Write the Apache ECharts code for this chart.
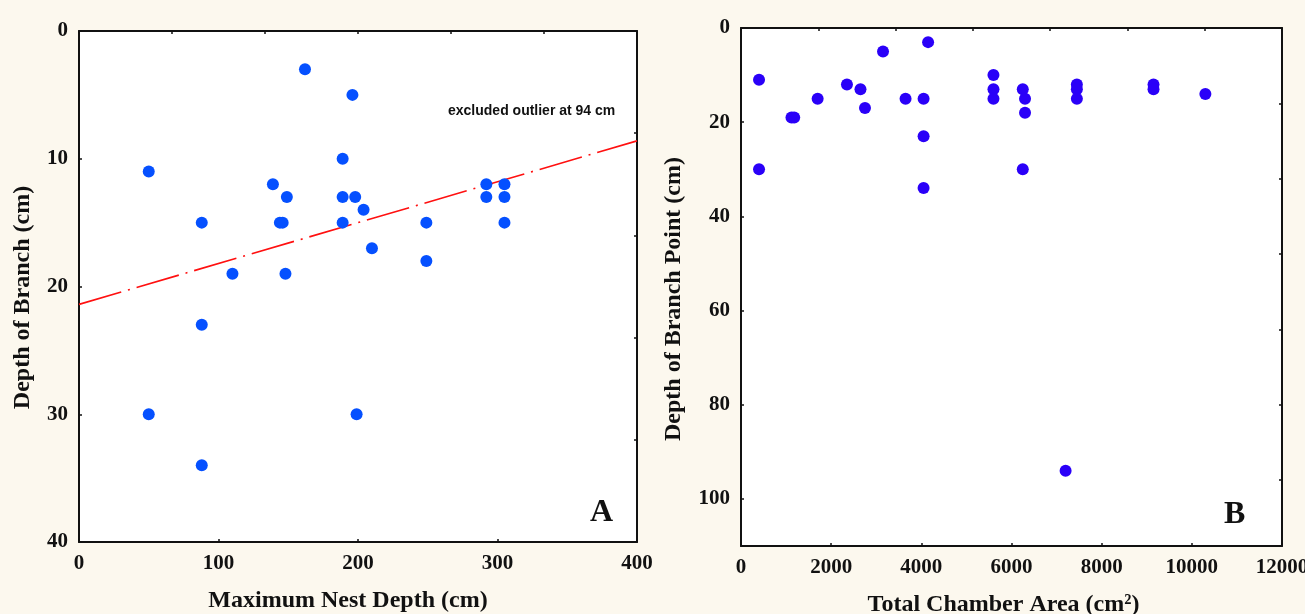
<!DOCTYPE html>
<html>
<head>
<meta charset="utf-8">
<script src="https://cdn.jsdelivr.net/npm/echarts@6/dist/echarts.min.js"></script>
<style>
html,body{margin:0;padding:0;background:#fcf8ee;}
#chart{width:1305px;height:614px;}
</style>
</head>
<body>
<div id="chart"></div>
<script>
// Panel A: Maximum nest depth (cm) vs depth of branch (cm)
const nestDepthA   = [50, 88, 110, 139, 149, 144, 146, 148, 162, 189, 189, 189, 196, 198, 204, 210, 249, 249, 292, 292, 305, 305, 305, 50, 88, 88, 199];
const branchDepthA = [11, 15, 19, 12, 13, 15, 15, 19, 3, 10, 13, 15, 5, 13, 14, 17, 15, 18, 12, 13, 12, 13, 15, 30, 23, 34, 30];
// Regression line endpoints
const regLineX = [0, 400];
const regLineY = [21.4, 8.6];

// Panel B: total chamber area (cm^2) vs depth of branch point (cm)
const chamberAreaB = [400, 400, 1120, 1180, 1700, 2350, 2650, 2750, 3150, 3650, 4050, 4150, 4050, 4050, 5600, 5600, 5600, 6250, 6300, 6300, 6250, 7450, 7450, 7450, 9150, 9150, 10300, 7200];
const branchDepthB = [11, 30, 19, 19, 15, 12, 13, 17, 5, 15, 15, 3, 23, 34, 10, 13, 15, 13, 15, 18, 30, 12, 13, 15, 12, 13, 14, 94];

const xTicksA = [0, 100, 200, 300, 400];
const yTicksA = [0, 10, 20, 30, 40];
const xTicksB = [0, 2000, 4000, 6000, 8000, 10000, 12000];
const yTicksB = [0, 20, 40, 60, 80, 100];

const SERIF = '"Liberation Serif", "Times New Roman", serif';
const ink = '#111';

function pairs(xs, ys){ return xs.map((x,i)=>[x, ys[i]]); }

const labelStyle = {fontFamily: SERIF, fontWeight: 'bold', fontSize: 21, color: ink, formatter: v => String(v)};
const nameStyle = {fontFamily: SERIF, fontWeight: 'bold', fontSize: 24, color: ink};

function mainAxis(opts){
  return Object.assign({
    type: 'value',
    axisLine: {show: true, onZero: false, lineStyle: {color: ink, width: 2}},
    axisTick: {show: true, inside: true, length: 3, lineStyle: {color: ink, width: 1.5}},
    splitLine: {show: false},
    axisLabel: Object.assign({margin: 11}, labelStyle),
    nameLocation: 'middle'
  }, opts);
}
function frameAxis(opts){
  return Object.assign({
    type: 'value',
    axisLine: {show: true, onZero: false, lineStyle: {color: ink, width: 2}},
    axisTick: {show: true, inside: true, length: 3, lineStyle: {color: ink, width: 1.5}},
    splitLine: {show: false},
    axisLabel: {show: false}
  }, opts);
}

const chart = echarts.init(document.getElementById('chart'));
chart.setOption({
  backgroundColor: '#fcf8ee',
  animation: false,
  grid: [
    {left: 79, top: 31, width: 558, height: 511, show: true, backgroundColor: '#ffffff', borderWidth: 0, containLabel: false, outerBoundsMode: 'none'},
    {left: 741, top: 28, width: 541, height: 518, show: true, backgroundColor: '#ffffff', borderWidth: 0, containLabel: false, outerBoundsMode: 'none'}
  ],
  xAxis: [
    mainAxis({gridIndex: 0, position: 'bottom', min: xTicksA[0], max: xTicksA[xTicksA.length-1], interval: xTicksA[1]-xTicksA[0],
      name: 'Maximum Nest Depth (cm)', nameGap: 47, nameTextStyle: Object.assign({padding: [0, 20, 0, 0]}, nameStyle)}),
    frameAxis({gridIndex: 0, position: 'top', min: 0, max: 400, interval: 400/6}),
    mainAxis({gridIndex: 1, position: 'bottom', min: xTicksB[0], max: xTicksB[xTicksB.length-1], interval: xTicksB[1]-xTicksB[0],
      name: 'Total Chamber Area (cm\u00B2)', nameGap: 47, nameTextStyle: Object.assign({padding: [0, 16, 0, 0]}, nameStyle)}),
    frameAxis({gridIndex: 1, position: 'top', min: 0, max: 12000, interval: 12000/7})
  ],
  yAxis: [
    mainAxis({gridIndex: 0, position: 'left', inverse: true, min: yTicksA[0], max: yTicksA[yTicksA.length-1], interval: yTicksA[1]-yTicksA[0],
      name: 'Depth of Branch (cm)', nameGap: 44, nameTextStyle: Object.assign({padding: [0, 22, 0, 0]}, nameStyle)}),
    frameAxis({gridIndex: 0, position: 'right', inverse: true, min: 0, max: 40, interval: 8}),
    mainAxis({gridIndex: 1, position: 'left', inverse: true, min: 0, max: 110, interval: yTicksB[1]-yTicksB[0],
      axisLabel: Object.assign({margin: 11, showMaxLabel: false}, labelStyle),
      name: 'Depth of Branch Point (cm)', nameGap: 55, nameTextStyle: Object.assign({padding: [0, 24, 0, 0]}, nameStyle)}),
    frameAxis({gridIndex: 1, position: 'right', inverse: true, min: 0, max: 110, interval: 16})
  ],
  series: [
    {
      type: 'line', xAxisIndex: 0, yAxisIndex: 0,
      data: pairs(regLineX, regLineY),
      showSymbol: false, symbol: 'none',
      lineStyle: {color: '#ff1010', width: 1.6, type: [44, 7, 2, 7]},
      z: 3
    },
    {
      type: 'scatter', xAxisIndex: 0, yAxisIndex: 0,
      data: pairs(nestDepthA, branchDepthA),
      symbol: 'circle', symbolSize: 12,
      itemStyle: {color: '#0550ff', opacity: 1},
      z: 4
    },
    {
      type: 'scatter', xAxisIndex: 2, yAxisIndex: 2,
      data: pairs(chamberAreaB, branchDepthB),
      symbol: 'circle', symbolSize: 12,
      itemStyle: {color: '#2a00f8', opacity: 1},
      z: 4
    }
  ],
  graphic: [
    {type: 'text', left: 448, top: 104, z: 10,
     style: {text: 'excluded outlier at 94 cm', font: 'bold 14px "Liberation Sans", Arial, sans-serif', fill: '#111'}},
    {type: 'text', left: 590, top: 497, z: 10,
     style: {text: 'A', font: 'bold 32px "Liberation Serif", "Times New Roman", serif', fill: '#111'}},
    {type: 'text', left: 1224, top: 499, z: 10,
     style: {text: 'B', font: 'bold 32px "Liberation Serif", "Times New Roman", serif', fill: '#111'}}
  ]
});
</script>
</body>
</html>
